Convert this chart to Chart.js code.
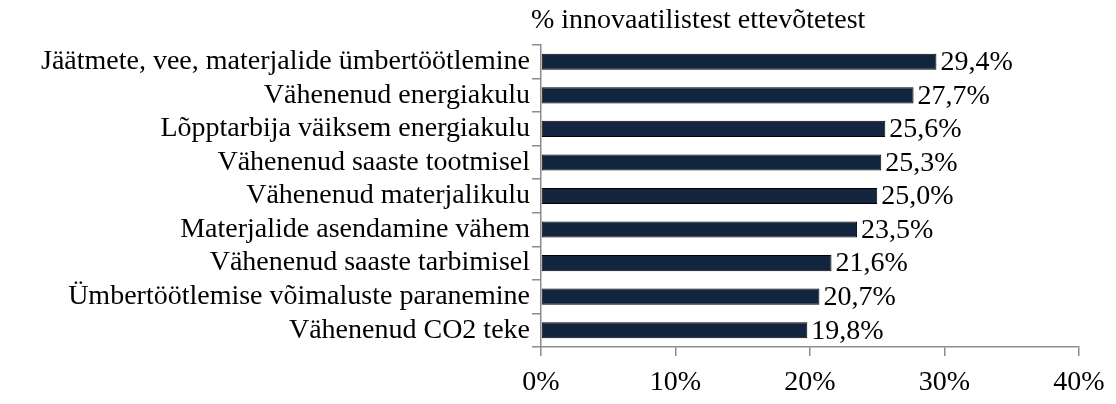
<!DOCTYPE html>
<html>
<head>
<meta charset="utf-8">
<script src="https://cdn.jsdelivr.net/npm/chart.js@4"></script>
<style>
  body { margin: 0; background: #fff; }
  canvas { display: block; }
</style>
</head>
<body>
<canvas id="barChart" width="1116" height="404"></canvas>
<script>
// keskkonnauuenduste mõjud – horisontaalne tulpdiagramm

const kategooriad = [
    "Jäätmete, vee, materjalide ümbertöötlemine",
    "Vähenenud energiakulu",
    "Lõpptarbija väiksem energiakulu",
    "Vähenenud saaste tootmisel",
    "Vähenenud materjalikulu",
    "Materjalide asendamine vähem",
    "Vähenenud saaste tarbimisel",
    "Ümbertöötlemise võimaluste paranemine",
    "Vähenenud CO2 teke"
];
const osakaal = [29.4, 27.7, 25.6, 25.3, 25.0, 23.5, 21.6, 20.7, 19.8];
const xTicks = [0, 10, 20, 30, 40];
const pealkiri = "% innovaatilistest ettevõtetest";

const FONT = "'Liberation Serif', 'Times New Roman', serif";

function protsent(v) {
    return v.toFixed(1).replace(".", ",") + "%";
}

// väärtused tulpade otsa + pealkiri
const siltPlugin = {
    id: "sildid",
    afterDatasetsDraw(chart) {
        const ctx = chart.ctx;
        const meta = chart.getDatasetMeta(0);
        ctx.save();
        ctx.fillStyle = "#000";
        ctx.font = "28px " + FONT;
        ctx.textBaseline = "middle";
        ctx.textAlign = "left";
        meta.data.forEach((bar, i) => {
            ctx.fillText(protsent(osakaal[i]), bar.x + 4, bar.y + 1);
        });
        ctx.fillText(pealkiri, chart.chartArea.left - 10, 21);
        ctx.restore();
    }
};

new Chart(document.getElementById("barChart"), {
    type: "bar",
    data: {
        labels: kategooriad,
        datasets: [{
            data: osakaal,
            backgroundColor: "#13243e",
            borderColor: "#000",
            borderWidth: 1,
            borderSkipped: false,
            barPercentage: 0.48,
            categoryPercentage: 1
        }]
    },
    options: {
        indexAxis: "y",
        responsive: false,
        animation: false,
        devicePixelRatio: 1,
        layout: { padding: { top: 45, right: 37, left: 0, bottom: 0 } },
        plugins: {
            legend: { display: false },
            tooltip: { enabled: false }
        },
        scales: {
            x: {
                min: 0,
                max: 40,
                afterBuildTicks(scale) {
                    scale.ticks = xTicks.map(v => ({ value: v }));
                },
                afterFit(scale) { scale.height = 57; },
                border: { display: true, color: "#8c8c8c", width: 1.5 },
                grid: {
                    drawOnChartArea: false,
                    drawTicks: true,
                    tickLength: 9,
                    color: "#8c8c8c",
                    lineWidth: 1.5
                },
                ticks: {
                    color: "#000",
                    padding: 10,
                    maxRotation: 0,
                    font: { family: FONT, size: 28 },
                    callback: v => v + "%"
                }
            },
            y: {
                afterFit(scale) { scale.width = 541; },
                border: { display: true, color: "#8c8c8c", width: 1.5 },
                grid: {
                    offset: true,
                    drawOnChartArea: false,
                    drawTicks: true,
                    tickLength: 9,
                    color: "#8c8c8c",
                    lineWidth: 1.5
                },
                ticks: {
                    color: "#000",
                    padding: 2,
                    autoSkip: false,
                    font: { family: FONT, size: 28 }
                }
            }
        }
    },
    plugins: [siltPlugin]
});
</script>
</body>
</html>
